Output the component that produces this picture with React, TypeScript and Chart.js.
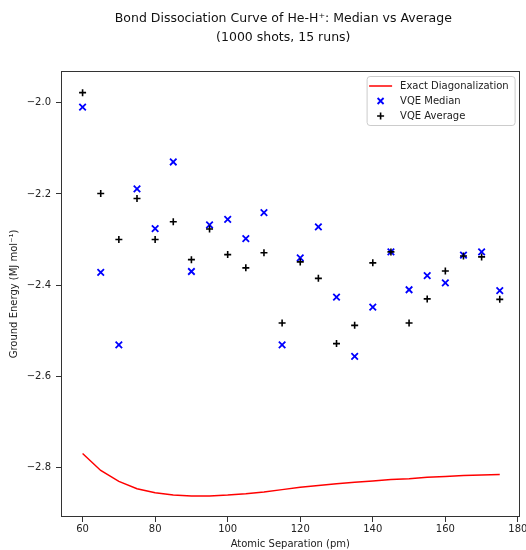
import React, { useEffect, useRef } from "react";
import { Chart, registerables } from "chart.js";

Chart.register(...registerables);

const separations = [60, 65, 70, 75, 80, 85, 90, 95, 100, 105, 110, 115, 120, 125, 130, 135, 140, 145, 150, 155, 160, 165, 170, 175];
const exactEnergy = [-2.769, -2.806, -2.830, -2.846, -2.855, -2.860, -2.862, -2.862, -2.860, -2.857, -2.853, -2.848, -2.843, -2.839, -2.835, -2.832, -2.829, -2.826, -2.824, -2.821, -2.819, -2.817, -2.816, -2.815];
const vqeMedian = [-2.010, -2.372, -2.531, -2.189, -2.276, -2.130, -2.370, -2.268, -2.256, -2.298, -2.241, -2.531, -2.340, -2.272, -2.426, -2.556, -2.448, -2.327, -2.410, -2.379, -2.395, -2.334, -2.327, -2.412];
const vqeAverage = [-1.978, -2.199, -2.300, -2.210, -2.300, -2.261, -2.344, -2.277, -2.333, -2.362, -2.329, -2.483, -2.349, -2.385, -2.528, -2.488, -2.351, -2.327, -2.483, -2.430, -2.369, -2.336, -2.338, -2.431];
const xTicks = [60, 80, 100, 120, 140, 160, 180];
const yTicks = [-2.8, -2.6, -2.4, -2.2, -2.0];
const titleLines = ["Bond Dissociation Curve of He-H\u207A: Median vs Average", "(1000 shots, 15 runs)"];
const legendLabels = ["Exact Diagonalization", "VQE Median", "VQE Average"];

const FONT = "'DejaVu Sans', sans-serif";

const fmt = (v: number) => {
  const s = v.toFixed(1);
  return s.startsWith("-") ? "\u2212" + s.slice(1) : s;
};

const titlePlugin = {
  id: "customTitle",
  afterDraw(chart: any) {
    const { ctx, chartArea: a } = chart;
    const cx = (a.left + a.right) / 2 - 7;
    ctx.save();
    ctx.fillStyle = "#111";
    ctx.font = `12.5px ${FONT}`;
    ctx.textAlign = "center";
    ctx.textBaseline = "middle";
    ctx.fillText(titleLines[0], cx, 18.5);
    ctx.fillText(titleLines[1], cx, 38);
    ctx.restore();
  },
};

const framePlugin = {
  id: "frame",
  afterDatasetsDraw(chart: any) {
    const { ctx, chartArea: a } = chart;
    ctx.save();
    ctx.strokeStyle = "#333";
    ctx.lineWidth = 1;
    ctx.strokeRect(Math.round(a.left) + 0.5, Math.round(a.top) + 0.5, Math.round(a.right - a.left) - 1, Math.round(a.bottom - a.top) - 1);
    ctx.restore();
  },
};

const legendPlugin = {
  id: "customLegend",
  afterDraw(chart: any) {
    const { ctx, chartArea: a } = chart;
    const w = 148;
    const h = 49;
    const right = a.right - 4.5;
    const left = right - w;
    const top = a.top + 5.5;
    ctx.save();
    ctx.beginPath();
    const r = 3;
    ctx.moveTo(left + r, top);
    ctx.lineTo(left + w - r, top);
    ctx.arcTo(left + w, top, left + w, top + r, r);
    ctx.lineTo(left + w, top + h - r);
    ctx.arcTo(left + w, top + h, left + w - r, top + h, r);
    ctx.lineTo(left + r, top + h);
    ctx.arcTo(left, top + h, left, top + h - r, r);
    ctx.lineTo(left, top + r);
    ctx.arcTo(left, top, left + r, top, r);
    ctx.closePath();
    ctx.fillStyle = "rgba(255,255,255,0.8)";
    ctx.fill();
    ctx.strokeStyle = "#cccccc";
    ctx.lineWidth = 1;
    ctx.stroke();

    const rows = [top + 9.5, top + 24.5, top + 39.5];
    const mx = left + 13.5;
    ctx.strokeStyle = "#ff0000";
    ctx.lineWidth = 1.5;
    ctx.beginPath();
    ctx.moveTo(left + 2, rows[0]);
    ctx.lineTo(left + 25, rows[0]);
    ctx.stroke();
    ctx.strokeStyle = "#0000ff";
    ctx.lineWidth = 1.8;
    ctx.beginPath();
    ctx.moveTo(mx - 3, rows[1] - 3);
    ctx.lineTo(mx + 3, rows[1] + 3);
    ctx.moveTo(mx + 3, rows[1] - 3);
    ctx.lineTo(mx - 3, rows[1] + 3);
    ctx.stroke();
    ctx.strokeStyle = "#000000";
    ctx.lineWidth = 1.6;
    ctx.beginPath();
    ctx.moveTo(mx - 3.5, rows[2]);
    ctx.lineTo(mx + 3.5, rows[2]);
    ctx.moveTo(mx, rows[2] - 3.5);
    ctx.lineTo(mx, rows[2] + 3.5);
    ctx.stroke();

    ctx.fillStyle = "#222";
    ctx.font = `10px ${FONT}`;
    ctx.textBaseline = "middle";
    ctx.textAlign = "left";
    legendLabels.forEach((t, i) => ctx.fillText(t, left + 33, rows[i] + 0.5));
    ctx.restore();
  },
};

export default function App() {
  const canvasRef = useRef<HTMLCanvasElement | null>(null);

  useEffect(() => {
    if (!canvasRef.current) return;
    const toPts = (ys: number[]) => separations.map((x, i) => ({ x, y: ys[i] }));
    const chart = new Chart(canvasRef.current, {
      type: "scatter",
      data: {
        datasets: [
          {
            label: legendLabels[0],
            data: toPts(exactEnergy),
            showLine: true,
            borderColor: "#ff0000",
            borderWidth: 1.5,
            pointRadius: 0,
            fill: false,
            order: 3,
          } as any,
          {
            label: legendLabels[1],
            data: toPts(vqeMedian),
            pointStyle: "crossRot",
            pointRadius: 4.6,
            borderColor: "#0000ff",
            backgroundColor: "#0000ff",
            pointBorderWidth: 1.8,
            order: 2,
          } as any,
          {
            label: legendLabels[2],
            data: toPts(vqeAverage),
            pointStyle: "cross",
            pointRadius: 3.5,
            borderColor: "#000000",
            backgroundColor: "#000000",
            pointBorderWidth: 1.6,
            order: 1,
          } as any,
        ],
      },
      options: {
        animation: false,
        responsive: true,
        maintainAspectRatio: false,
        layout: { padding: { left: 0, right: 6, top: 71, bottom: 0 } },
        plugins: {
          legend: { display: false },
          tooltip: { enabled: false },
          title: { display: false },
        },
        scales: {
          x: {
            type: "linear",
            min: 54.05,
            max: 180.47,
            afterBuildTicks: (s: any) => {
              s.ticks = xTicks.map((v) => ({ value: v }));
            },
            afterFit: (s: any) => {
              s.height = 33;
              s.paddingLeft = 0;
              s.paddingRight = 0;
            },
            grid: { display: true, drawOnChartArea: false, drawTicks: true, tickLength: 5, color: "#333" },
            border: { display: false },
            ticks: {
              autoSkip: false,
              maxRotation: 0,
              padding: 1,
              color: "#222",
              font: { family: FONT, size: 10 },
              callback: (v: any) => String(v),
            },
            title: {
              display: true,
              text: "Atomic Separation (pm)",
              color: "#222",
              font: { family: FONT, size: 10, lineHeight: 1.2 },
              padding: { top: 0, bottom: 0 },
            },
          },
          y: {
            type: "linear",
            min: -2.908,
            max: -1.9306,
            afterBuildTicks: (s: any) => {
              s.ticks = yTicks.map((v) => ({ value: v }));
            },
            afterFit: (s: any) => {
              s.width = 61;
              s.paddingTop = 0;
              s.paddingBottom = 0;
            },
            grid: { display: true, drawOnChartArea: false, drawTicks: true, tickLength: 5, color: "#333" },
            border: { display: false },
            ticks: {
              autoSkip: false,
              padding: 5,
              color: "#222",
              font: { family: FONT, size: 10 },
              callback: (v: any) => fmt(Number(v)),
            },
            title: {
              display: true,
              text: "Ground Energy (MJ mol\u207B\u00B9)",
              color: "#222",
              font: { family: FONT, size: 10, lineHeight: 1.2 },
              padding: { top: 8, bottom: 0 },
            },
          },
        },
      } as any,
      plugins: [framePlugin, legendPlugin, titlePlugin],
    });
    return () => chart.destroy();
  }, []);

  return (
    <div style={{ position: "fixed", left: 0, top: 0, width: 526, height: 550, background: "#fff" }}>
      <canvas ref={canvasRef} />
    </div>
  );
}
